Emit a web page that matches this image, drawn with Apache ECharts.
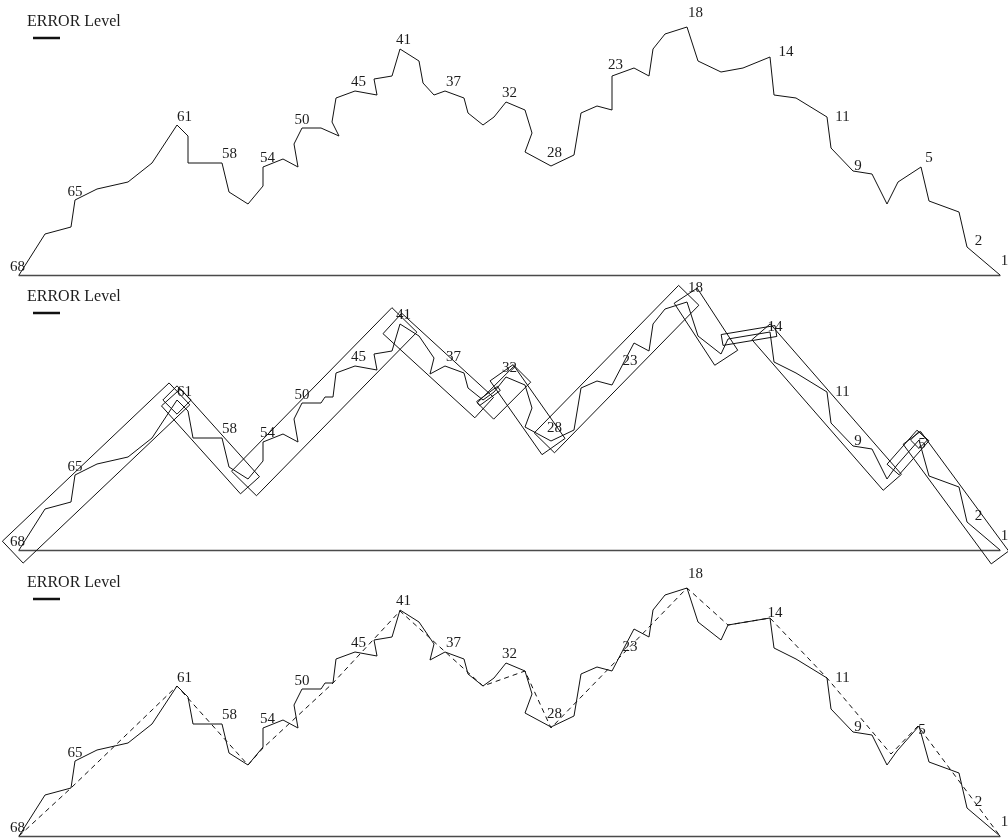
<!DOCTYPE html>
<html>
<head>
<meta charset="utf-8">
<style>
html,body{margin:0;padding:0;background:#fff;}
#chart{width:1008px;height:840px;}
</style>
<script src="https://cdn.jsdelivr.net/npm/echarts@6/dist/echarts.min.js"></script>
</head>
<body>
<div id="chart"></div>
<script>
// Point ids along the trace, left to right
const pointIds = [68,67,66,65,64,63,62,61,60,59,58,57,56,55,54,53,52,51,50,49,48,47,46,45,44,43,42,41,40,39,38,37,36,35,34,33,32,31,30,29,28,27,26,25,24,23,22,21,20,19,18,17,16,15,14,13,12,11,10,9,8,7,6,5,4,3,2,1];

// Original trace (top panel)
const stepsRaw = [0,26,52,56,78,109,133,158,169,169,203,210,229,244,244,264,279,275,283,302,320,313,317,336,358,355,373,381,400,404,415,426,445,449,464,475,487,506,513,506,532,555,562,578,593,593,615,630,634,646,668,679,702,724,751,755,777,808,812,834,853,868,879,902,910,940,948,981];
const levelRaw = [0,41,48,75,86,93,112,150,139,112,112,83,71,89,108,116,108,131,147,147,139,153,177,184,180,196,199,226,214,192,180,184,177,162,150,158,173,165,142,123,109,120,162,169,165,199,207,199,226,241,248,214,203,207,218,180,177,158,127,104,101,71,93,108,74,63,28,0];

// Filtered trace (middle and bottom panels)
const stepsFit = [0,26,52,56,78,109,133,158,169,174,203,210,229,244,244,264,279,275,283,302,306,314,317,336,358,355,373,381,400,415,411,426,445,449,464,475,487,506,513,506,532,555,562,578,593,605,615,630,634,646,668,679,702,709,751,755,777,808,812,834,853,868,878,900,910,940,948,981];
const levelFit = [0,41,48,75,86,93,112,150,139,112,112,83,71,89,108,116,108,131,147,147,153,153,177,184,180,196,199,226,214,192,176,184,177,162,150,158,173,165,142,123,109,120,162,169,165,188,207,199,226,241,248,214,196,211,218,188,177,158,127,104,101,71,85,110,74,63,28,0];

// Piecewise-linear approximation (bottom panel, dashed)
const approxSteps = [0,52,158,229,244,314,381,464,506,532,668,709,751,808,872,899,981];
const approxLevel = [0,48,150,71,88,153,225,150,165,108,248,211,218,158,82,110,0];

// Ids that carry a number label
const labeledIds = [68,65,61,58,54,50,45,41,37,32,28,23,18,14,11,9,5,2,1];

// Segments boxed in the middle panel: [first id, last id, axis from id, axis to id]
// (axis defaults to first -> last)
const segmentIds = [
  [68,61],[61,61],[61,56],[56,41],[41,34],[34,33],[34,31,34,32],[32,28],
  [28,18],[18,15,18,16],[15,14],[14,7,14,8],[6,5],[5,5],[5,1]
];

// ---- layout / style ----
const baselines = [275, 550, 836];
const panelHeight = 250;
const gridLeft = 19;
const xMax = 981;
const serif = '"Liberation Serif", "Times New Roman", serif';
const ink = '#111';
const boxPadAlong = 6, boxPadAcross = 2;
const markerBoxSide = { 61: 20, 5: 12 };          // single-point boxes, by id
const shortBoxWidth = { 34: 5, 15: 11, 6: 16 };   // two-point boxes, by first id

const labelShift = {68:[-1.5,-7.5],65:[0,-8],61:[7.5,-8],58:[7.5,-9],54:[4.5,-9],50:[0,-8],45:[3.5,-9],41:[3.5,-8.5],37:[8.5,-9],32:[3.5,-8.5],28:[3.5,-12.5],23:[3.5,-10.5],18:[8.5,-13.5],14:[16,-5],11:[15.5,0],9:[5,-5],5:[8,-9],2:[11.5,-6],1:[4.5,-13.5]};
const labelShiftFit = Object.assign({}, labelShift, {14:[5,-5],23:[6,-1],5:[3,4]});

function traceData(xs, ys, shifts) {
  return xs.map((x, i) => {
    const id = pointIds[i];
    const item = { value: [x, ys[i]] };
    if (labeledIds.indexOf(id) >= 0) {
      item.label = { show: true, formatter: String(id), offset: shifts[id] };
    }
    return item;
  });
}

function fitPoint(id) {
  const i = pointIds.indexOf(id);
  return [stepsFit[i], levelFit[i]];
}

// Box around the points of one segment, aligned with the given axis
function segmentBox(pts, axisA, axisB, side, minWidth) {
  const [x0, y0] = axisA;
  let dx = axisB[0] - x0, dy = axisB[1] - y0, len = Math.hypot(dx, dy);
  if (len === 0) { dx = 1; dy = -1; len = Math.SQRT2; }
  const ux = dx / len, uy = dy / len, vx = -uy, vy = ux;
  let t0 = Infinity, t1 = -Infinity, s0 = Infinity, s1 = -Infinity;
  pts.forEach(([x, y]) => {
    const t = (x - x0)*ux + (y - y0)*uy, s = (x - x0)*vx + (y - y0)*vy;
    t0 = Math.min(t0, t); t1 = Math.max(t1, t);
    s0 = Math.min(s0, s); s1 = Math.max(s1, s);
  });
  if (pts.length === 1) {
    t0 = -side/2; t1 = side/2; s0 = -side/2; s1 = side/2;
  } else {
    t0 -= boxPadAlong; t1 += boxPadAlong; s0 -= boxPadAcross; s1 += boxPadAcross;
    if (s1 - s0 < minWidth) { const m = (s0 + s1) / 2; s0 = m - minWidth/2; s1 = m + minWidth/2; }
  }
  return [[t0,s0],[t1,s0],[t1,s1],[t0,s1]].map(([t,s]) => [x0 + t*ux + s*vx, y0 + t*uy + s*vy]);
}

const boxData = segmentIds.map(seg => {
  const [a, b] = seg;
  const axFrom = seg.length > 2 ? seg[2] : a, axTo = seg.length > 3 ? seg[3] : b;
  const i0 = pointIds.indexOf(a), i1 = pointIds.indexOf(b);
  const pts = [];
  for (let i = i0; i <= i1; i++) pts.push([stepsFit[i], levelFit[i]]);
  const c = segmentBox(pts, fitPoint(axFrom), fitPoint(axTo), markerBoxSide[a] || 14, shortBoxWidth[a] || 5);
  return [c[0][0], c[0][1], c[1][0], c[1][1], c[2][0], c[2][1], c[3][0], c[3][1]];
});

const grids = baselines.map(b => ({ left: gridLeft, width: xMax, top: b - panelHeight, height: panelHeight }));
const xAxes = baselines.map((b, i) => ({
  type: 'value', gridIndex: i, min: 0, max: xMax,
  axisLine: { show: true, onZero: false, lineStyle: { color: '#4a4a4a', width: 1.3 } },
  axisTick: { show: false }, axisLabel: { show: false }, splitLine: { show: false }
}));
const yAxes = baselines.map((b, i) => ({
  type: 'value', gridIndex: i, min: 0, max: panelHeight, show: false
}));

function traceSeries(idx, xs, ys, shifts) {
  return {
    type: 'line', name: 'ERROR Level', xAxisIndex: idx, yAxisIndex: idx,
    data: traceData(xs, ys, shifts),
    symbol: 'circle', symbolSize: 0, showSymbol: true, clip: false, silent: true,
    lineStyle: { color: ink, width: 1 },
    itemStyle: { color: ink },
    label: { show: false, position: 'inside', align: 'center', verticalAlign: 'middle',
             fontFamily: serif, fontSize: 15, color: '#1c1c1c' },
    emphasis: { disabled: true }, z: 3
  };
}

const series = [
  traceSeries(0, stepsRaw, levelRaw, labelShift),
  traceSeries(1, stepsFit, levelFit, labelShiftFit),
  {
    type: 'custom', xAxisIndex: 1, yAxisIndex: 1, data: boxData, silent: true, z: 4,
    renderItem: function (params, api) {
      const pts = [];
      for (let k = 0; k < 4; k++) pts.push(api.coord([api.value(2*k), api.value(2*k + 1)]));
      return { type: 'polygon', shape: { points: pts }, style: { fill: 'none', stroke: ink, lineWidth: 1 } };
    }
  },
  traceSeries(2, stepsFit, levelFit, labelShiftFit),
  {
    type: 'line', xAxisIndex: 2, yAxisIndex: 2,
    data: approxSteps.map((x, i) => [x, approxLevel[i]]),
    symbol: 'none', clip: false, silent: true,
    lineStyle: { color: ink, width: 1, type: [5, 4] },
    emphasis: { disabled: true }, z: 2
  }
];

const graphic = [];
baselines.forEach(b => {
  graphic.push({
    type: 'text', x: 27, y: b - 253, silent: true,
    style: { text: 'ERROR Level', font: '16px ' + serif, fill: '#1c1c1c',
             align: 'left', verticalAlign: 'middle', textAlign: 'left', textVerticalAlign: 'middle' }
  });
  graphic.push({
    type: 'line', silent: true,
    shape: { x1: 33, y1: b - 237, x2: 60, y2: b - 237 },
    style: { stroke: ink, lineWidth: 2.5 }
  });
});

const chart = echarts.init(document.getElementById('chart'), null, { renderer: 'canvas' });
chart.setOption({
  backgroundColor: '#ffffff',
  animation: false,
  grid: grids,
  xAxis: xAxes,
  yAxis: yAxes,
  series: series,
  graphic: graphic
});
</script>
</body>
</html>
